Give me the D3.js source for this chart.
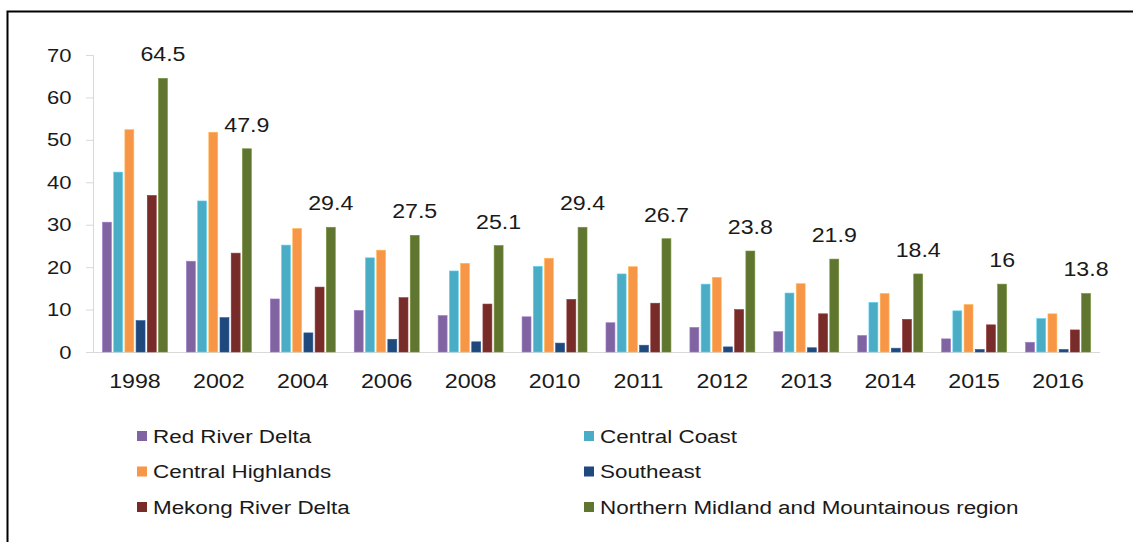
<!DOCTYPE html>
<html>
<head>
<meta charset="utf-8">
<script src="https://cdn.jsdelivr.net/npm/d3@7"></script>
<style>
  body { margin: 0; background: #fff; }
  svg { display: block; font-family: "Liberation Sans", Arial, sans-serif; }
  .frame { fill: none; stroke: #000; stroke-width: 2; }
  .axis path, .axis line { stroke: #d9d9d9; }
  .axis text { fill: #1a1a1a; }
</style>
</head>
<body>
<div id="chart"></div>
<script>
const years = ['1998', '2002', '2004', '2006', '2008', '2010', '2011', '2012', '2013', '2014', '2015', '2016']
const regions = ['Red River Delta', 'Central Coast', 'Central Highlands', 'Southeast',
    'Mekong River Delta', 'Northern Midland and Mountainous region']
const colors = ['#8064a2', '#4bacc6', '#f79646', '#1f497d', '#772c2a', '#5f7530']

const redRiver = [30.6, 21.4, 12.5, 9.8, 8.6, 8.3, 6.9, 5.8, 4.8, 3.9, 3.1, 2.3]
const centralCoast = [42.4, 35.6, 25.2, 22.2, 19.1, 20.2, 18.4, 16.0, 13.9, 11.7, 9.7, 7.9]
const centralHighlands = [52.4, 51.8, 29.1, 24.0, 20.9, 22.1, 20.1, 17.6, 16.1, 13.8, 11.2, 9.0]
const southeast = [7.4, 8.1, 4.5, 3.0, 2.4, 2.1, 1.6, 1.2, 1.0, 0.9, 0.6, 0.6]
const mekong = [36.9, 23.3, 15.3, 12.8, 11.3, 12.4, 11.5, 10.0, 9.0, 7.7, 6.4, 5.2]
const northern = [64.5, 47.9, 29.4, 27.5, 25.1, 29.4, 26.7, 23.8, 21.9, 18.4, 16, 13.8]

const yTicks = [0, 10, 20, 30, 40, 50, 60, 70]

const series = [redRiver, centralCoast, centralHighlands, southeast, mekong, northern]
const table = years.map((yr, i) => ({
    year: yr,
    values: series.map((s, j) => ({ key: regions[j], value: s[i] }))
}))

//variables
const width = 1133
const height = 542
const stretch = 1.16   // text in the picture is widened a little

const svg = d3.select('#chart')
    .append('svg')
    .attr('width', width)
    .attr('height', height)

svg.append('rect')
    .attr('class', 'frame')
    .attr('x', 7.5)
    .attr('y', 11.5)
    .attr('width', width)
    .attr('height', height)

const x0 = d3.scaleBand()
    .domain(years)
    .range([93, 1100])
    .paddingInner(0.226)
    .paddingOuter(0.113)
const x1 = d3.scaleBand()
    .domain(regions)
    .range([0, x0.bandwidth()])
    .paddingInner(0.2)
const y = d3.scaleLinear()
    .domain([0, 70])
    .range([352, 55])
const color = d3.scaleOrdinal()
    .domain(regions)
    .range(colors)

//axes
const yAxis = svg.append('g')
    .attr('class', 'axis')
    .attr('transform', 'translate(93,0)')
    .call(d3.axisLeft(y).tickValues(yTicks).tickSize(7).tickPadding(0))
yAxis.selectAll('text')
    .attr('x', -21.5 / stretch)
    .attr('transform', `scale(${stretch},1)`)
    .style('font-size', '19px')
    .style('font-family', '"Liberation Sans", Arial, sans-serif')

const xAxis = svg.append('g')
    .attr('class', 'axis')
    .attr('transform', 'translate(0,352)')
    .call(d3.axisBottom(x0).tickSize(0).tickSizeOuter(0))
xAxis.select('.domain').attr('d', 'M93,0.5H1100')
xAxis.selectAll('text')
    .attr('y', 36)
    .attr('dy', 0)
    .attr('transform', `scale(${stretch},1)`)
    .style('font-size', '20px')
    .style('font-family', '"Liberation Sans", Arial, sans-serif')

//bars
const groups = svg.append('g')
    .selectAll('g')
    .data(table)
    .enter()
    .append('g')
    .attr('transform', (d) => `translate(${x0(d.year)},0)`)

groups.selectAll('rect')
    .data((d) => d.values)
    .enter()
    .append('rect')
    .attr('x', (d) => x1(d.key))
    .attr('y', (d) => y(d.value))
    .attr('width', x1.bandwidth())
    .attr('height', (d) => y(0) - y(d.value))
    .attr('fill', (d) => color(d.key))
    .attr('stroke', (d) => d3.color(color(d.key)).brighter(0.6))
    .attr('stroke-width', 0.6)

//labels on the northern series
const last = regions[regions.length - 1]
svg.append('g')
    .selectAll('text')
    .data(table)
    .enter()
    .append('text')
    .attr('transform', (d) => {
        const v = d.values[d.values.length - 1].value
        const cx = x0(d.year) + x1(last) + x1.bandwidth() / 2
        return `translate(${cx},${y(v) - 17}) scale(${stretch},1)`
    })
    .attr('text-anchor', 'middle')
    .style('font-size', '20px')
    .style('fill', '#1a1a1a')
    .text((d) => d.values[d.values.length - 1].value)

//legend
const legend = svg.append('g')
    .selectAll('g')
    .data(regions)
    .enter()
    .append('g')
    .attr('transform', (d, i) => `translate(${i % 2 === 0 ? 137 : 584},${431 + Math.floor(i / 2) * 35.5})`)

legend.append('rect')
    .attr('width', 10)
    .attr('height', 10)
    .attr('fill', (d) => color(d))

legend.append('text')
    .attr('transform', `translate(16,11.5) scale(${stretch + 0.02},1)`)
    .style('font-size', '19px')
    .style('fill', '#1a1a1a')
    .text((d) => d)
</script>
</body>
</html>
